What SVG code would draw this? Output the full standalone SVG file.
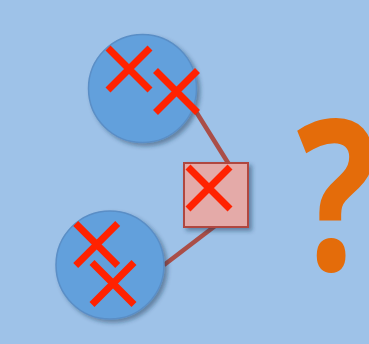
<svg xmlns="http://www.w3.org/2000/svg" width="369" height="344" viewBox="0 0 369 344">
<defs>
<filter id="sh" x="-20%" y="-20%" width="150%" height="150%">
<feDropShadow dx="3" dy="3" stdDeviation="2.2" flood-color="#1a3050" flood-opacity="0.45"/>
</filter>
<g id="x"><path d="M-21,-21 L21,21 M21,-21 L-21,21" stroke="#FF2200" stroke-width="7" fill="none"/></g>
</defs>
<style>
.c{fill:#62A0DC;stroke:#5A8EC6;stroke-width:1.5;filter:url(#sh)}
.s{fill:#E4AAA8;stroke:#B0473F;stroke-width:2;filter:url(#sh)}
.l{stroke:#AA4E48;stroke-width:4.5;fill:none}
.q{font-family:"Open Sans","DejaVu Sans",sans-serif;font-weight:700;fill:#E46C0A}
</style>
<rect width="369" height="344" fill="#9EC2E8"/>
<g id="connectors">
<path class="l" d="M195,110 L230,166"/>
<path class="l" d="M164,265 L215,226"/>
</g>
<g id="node-top">
<circle class="c" cx="142.5" cy="88.5" r="54"/>
<use href="#x" x="129" y="69"/>
<use href="#x" x="176.5" y="91.5"/>
</g>
<g id="node-square">
<rect class="s" x="184" y="163" width="64" height="64"/>
<use href="#x" x="209" y="188"/>
</g>
<g id="node-bottom">
<circle class="c" cx="110" cy="265" r="54"/>
<use href="#x" x="96.7" y="244.5"/>
<use href="#x" x="113" y="283.5"/>
</g>
<g id="question">
<text class="q" transform="translate(304,270) scale(0.8,1)" x="-9" y="0" font-size="210">?</text>
</g>
</svg>
